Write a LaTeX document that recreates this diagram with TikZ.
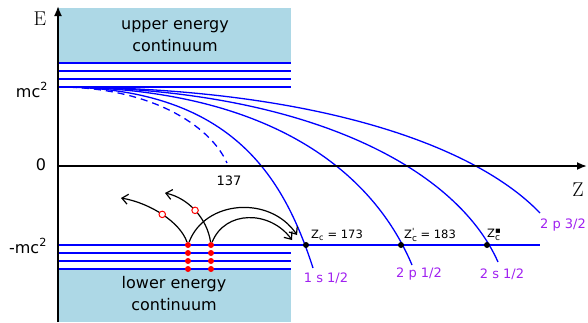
\documentclass[tikz,border=0pt]{standalone}
\usepackage{fontspec}
\newfontfamily\dejavu{DejaVu Sans}
\usetikzlibrary{arrows.meta}
\definecolor{contblue}{HTML}{ADD8E6}
\definecolor{statepurple}{RGB}{160,32,240}
\newcommand{\zmark}[1]{\raisebox{-3.5pt}{\shortstack[l]{\fontsize{8.5}{8}\selectfont #1\\[-1pt]\fontsize{9}{9}\selectfont c}}}

\begin{document}
\begin{tikzpicture}[x=1pt, y=-1pt,
    level/.style={draw=blue, line width=1.3pt},
    curve/.style={draw=blue, line width=1.3pt},
    axis/.style={line width=1.8pt, -{Latex[length=10pt, width=8pt]}},
    edot/.style={circle, fill=red, inner sep=0pt, minimum size=6pt},
    hole/.style={circle, draw=red, fill=white, line width=1pt, inner sep=0pt, minimum size=6.5pt},
    cross/.style={circle, fill=black, inner sep=0pt, minimum size=6pt},
    jump/.style={line width=1.2pt, -{Straight Barb[length=6pt, width=10pt]}},
    biglabel/.style={font=\dejavu\fontsize{16}{22}\selectfont, align=center},
    midlabel/.style={font=\dejavu\fontsize{13}{15}\selectfont},
    zclabel/.style={font=\dejavu\fontsize{11.5}{13}\selectfont},
    statelabel/.style={midlabel, text=statepurple},
    axisname/.style={font=\fontsize{20}{22}\selectfont}
]
    \useasboundingbox (0,0) rectangle (588,322);

    % continua
    \fill[contblue] (58,8) rectangle (291,63);
    \fill[contblue] (58,269) rectangle (291,322);
    \node[biglabel] (up) at (175,36) {upper energy\\continuum};
    \node[biglabel] (low) at (174,294) {lower energy\\continuum};

    % bound levels
    \foreach \ly in {63,71,79,87}
        \draw[level] (58,\ly) -- (291,\ly);
    \draw[level] (58,245) -- (540,245);
    \foreach \ly in {253,261,269}
        \draw[level] (58,\ly) -- (291,\ly);

    % level curves
    \draw[curve, dash pattern=on 7pt off 5pt]
        (58,87) .. controls (150,87) and (210,125) .. (227,163);
    \draw[curve] (58,87) .. controls (230,87) and (283,175) .. (313,268);
    \draw[curve] (58,87) .. controls (260,87) and (370,165) .. (412,265);
    \draw[curve] (58,87) .. controls (300,87) and (455,165) .. (498,262);
    \draw[curve] (58,87) .. controls (300,87) and (470,140) .. (540,213);

    % axes
    \draw[axis] (58,322) -- (58,6);
    \draw[axis] (58,166) -- (587,166);
    \node[axisname] (E) at (40,19) {E};
    \node[axisname] (Z) at (578,190) {Z};
    \node[biglabel] (mc) at (32,90) {mc\textsuperscript{2}};
    \node[biglabel] (zero) at (41,165) {0};
    \node[biglabel] (mmc) at (28,246) {-mc\textsuperscript{2}};
    \node[midlabel] (z137) at (229,181) {137};

    % critical charges
    \node[cross] (c1) at (306,245) {};
    \node[cross] (c2) at (401,245) {};
    \node[cross] (c3) at (487,245) {};
    \node[zclabel] at (337,235) {Z\textsubscript{c} = 173};
    \node[zclabel] at (430,235) {Z\zmark{'} = 183};
    \node[zclabel] at (494,235) {Z\zmark{▪}};
    \node[statelabel] (s1) at (326,278) {1 s 1/2};
    \node[statelabel] (p1) at (419,274) {2 p 1/2};
    \node[statelabel] (s2) at (502,274) {2 s 1/2};
    \node[statelabel] (p3) at (563,225) {2 p 3/2};

    % electrons in the lower continuum
    \foreach \ly [count=\i] in {245,253,261,269} {
        \node[edot] (a\i) at (188,\ly) {};
        \node[edot] (b\i) at (211,\ly) {};
    }
    \coordinate (outa) at (121,198);
    \coordinate (outb) at (165,193);
    \coordinate (ina) at (297,235);
    \coordinate (inb) at (292,240);

    \draw[jump] (a1) .. controls (180,222) and (150,203) .. (outa)
        node[hole, pos=0.5] (ha) {};
    \draw[jump] (b1) .. controls (207,218) and (188,198) .. (outb)
        node[hole, pos=0.5] (hb) {};
    \draw[jump] (a1) .. controls (205,200) and (270,195) .. (ina);
    \draw[jump] (b1) .. controls (225,210) and (270,210) .. (inb);
\end{tikzpicture}
\end{document}
